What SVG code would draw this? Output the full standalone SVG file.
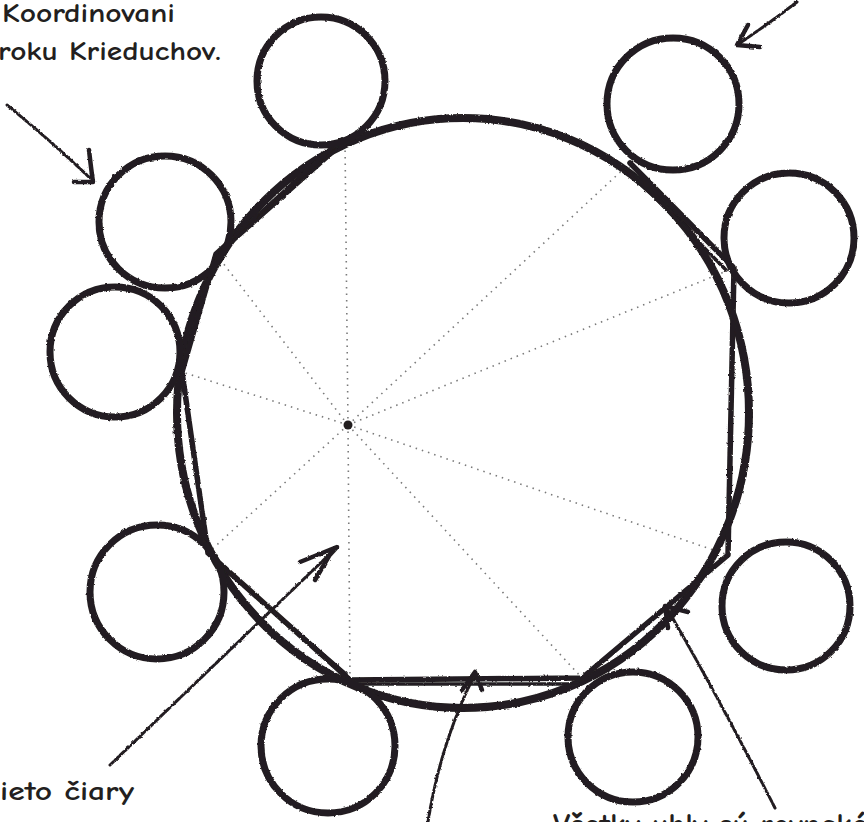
<svg xmlns="http://www.w3.org/2000/svg" width="864" height="822" viewBox="0 0 864 822">
<style>
.bg{fill:#fff}
.chair{fill:none;stroke:#231f20;stroke-width:7}
.table{fill:none;stroke:#231f20;stroke-width:8}
.chord{fill:none;stroke:#231f20;stroke-width:5.5;stroke-linecap:round;stroke-linejoin:round}
.chord2{fill:none;stroke:#231f20;stroke-width:3.5;stroke-linecap:round}
.radius{fill:none;stroke:#7a7a7a;stroke-width:1.6;stroke-dasharray:1.5 5}
.arrow{fill:none;stroke:#231f20;stroke-width:3;stroke-dasharray:5 2;stroke-linecap:round}
.head{fill:none;stroke:#231f20;stroke-width:4.5;stroke-linecap:round;stroke-linejoin:round}
.lbl{font-family:"Comic Neue","Liberation Sans",sans-serif;font-size:27px;font-weight:700;fill:#231f20}
</style>
<defs>
<filter id="rough" x="-5%" y="-5%" width="110%" height="110%">
<feTurbulence type="fractalNoise" baseFrequency="0.35" numOctaves="2" seed="3" result="n"/>
<feDisplacementMap in="SourceGraphic" in2="n" scale="2.5" xChannelSelector="R" yChannelSelector="G"/>
</filter>
</defs>
<rect class="bg" x="0" y="0" width="864" height="822"/>

<g id="radii">
<path class="radius" d="M348 425L345 142M348 425L630 163M348 425L734 268M348 425L728 555M348 425L582 678M348 425L350 680M348 425L208 553M348 425L182 372M348 425L216 254"/>
<circle cx="348" cy="425" r="4.5" fill="#231f20"/>
</g>

<g id="table" filter="url(#rough)">
<ellipse class="table" cx="463" cy="413" rx="286" ry="295"/>
</g>

<g id="polygon" filter="url(#rough)">
<polyline class="chord" points="630,163 734,268 728,555 582,678 350,680 208,553 182,372 216,254 342,140"/>
<path class="chord2" d="M626 168L726 270M214 258L336 150M214 560L346 674M354 684L578 684"/>
</g>

<g id="chair1" filter="url(#rough)"><circle class="chair" cx="321" cy="81" r="64"/></g>
<g id="chair2" filter="url(#rough)"><circle class="chair" cx="673" cy="104" r="66"/></g>
<g id="chair3" filter="url(#rough)"><circle class="chair" cx="789" cy="238" r="65"/></g>
<g id="chair4" filter="url(#rough)"><circle class="chair" cx="786" cy="606" r="64"/></g>
<g id="chair5" filter="url(#rough)"><circle class="chair" cx="633" cy="737" r="65"/></g>
<g id="chair6" filter="url(#rough)"><circle class="chair" cx="328" cy="746" r="67"/></g>
<g id="chair7" filter="url(#rough)"><circle class="chair" cx="157" cy="592" r="67"/></g>
<g id="chair8" filter="url(#rough)"><circle class="chair" cx="115" cy="352" r="65"/></g>
<g id="chair9" filter="url(#rough)"><circle class="chair" cx="165" cy="222" r="66"/></g>

<g id="connectors" filter="url(#rough)">
<path class="arrow" d="M7 105Q50 140 91 179"/>
<path class="head" d="M89 150Q91 168 93 182L74 182"/>
<path class="arrow" d="M797 2Q768 24 740 43"/>
<path class="head" d="M748 25L737 45L760 47"/>
<path class="arrow" d="M110 765Q230 650 335 549"/>
<path class="head" d="M300 562L337 547L327 558M315 580L329 556"/>
<path class="arrow" d="M428 822Q440 745 474 676"/>
<path class="head" d="M462 690L475 672L482 690"/>
<path class="arrow" d="M775 808Q720 700 668 610"/>
<path class="head" d="M668 628L665 606L688 612"/>
</g>

<g id="labels">
<text class="lbl" x="2" y="22" textLength="173" lengthAdjust="spacingAndGlyphs">Koordinovani</text>
<text class="lbl" x="-2" y="60" textLength="223" lengthAdjust="spacingAndGlyphs">roku Krieduchov.</text>
<text class="lbl" x="0" y="800" textLength="134" lengthAdjust="spacingAndGlyphs">ieto čiary</text>
<text class="lbl" x="553" y="836" style="font-size:32px">Všetky uhly sú rovnaké</text>
</g>
</svg>
